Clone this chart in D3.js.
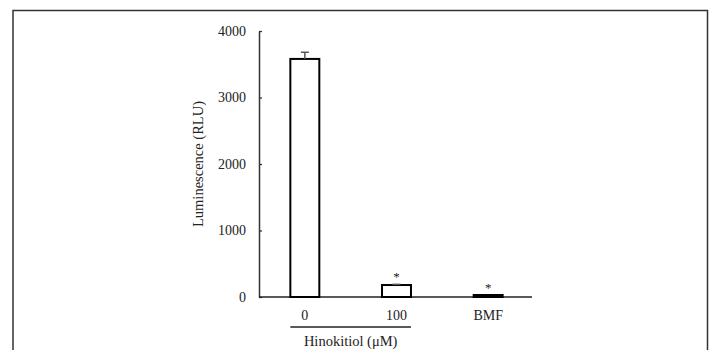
<!DOCTYPE html>
<html><head><meta charset="utf-8">
<script src="https://cdn.jsdelivr.net/npm/d3@7"></script>
<style>body{margin:0;background:#fff}svg{display:block}text{font-family:"Liberation Serif","DejaVu Serif",serif;fill:#222}</style>
</head><body><svg id="c" width="714" height="350"></svg>
<script>
const categories = ["0", "100", "BMF"];
const values = [3580, 180, 30];
const errors = [100, 10, 0];
const significant = [false, true, true];
const yTicks = [0, 1000, 2000, 3000, 4000];
const yLabel = "Luminescence (RLU)";
const groupLabel = "Hinokitiol (μM)";

const svg = d3.select("#c");
// outer frame
svg.append("path").attr("d","M13,350 L13,10.5 L707.5,10.5 L707.5,350")
  .attr("fill","none").attr("stroke","#333").attr("stroke-width",1.5);

const x0 = 259, x1 = 534, yTop = 31, yBot = 297;
const x = d3.scaleBand().domain(categories).range([x0, x1]).paddingInner(0.684).paddingOuter(0.342);
const y = d3.scaleLinear().domain([0, 4000]).range([yBot, yTop]);

// y axis
const ya = svg.append("g").attr("transform",`translate(${x0},0)`)
  .call(d3.axisLeft(y).tickValues(yTicks).tickFormat(d3.format("d")).tickSize(-3).tickPadding(13).tickSizeOuter(0));
ya.select(".domain").attr("stroke","#333").attr("stroke-width",1.5);
ya.selectAll(".tick line").attr("stroke","#333").attr("stroke-width",1.3);
ya.selectAll(".tick text").attr("font-size",14).attr("font-family","Liberation Serif").attr("fill","#222");

// x axis line
svg.append("line").attr("x1",x0).attr("x2",532).attr("y1",yBot).attr("y2",yBot)
  .attr("stroke","#222").attr("stroke-width",1.5);

// bars
svg.selectAll("rect.bar").data(values).enter().append("rect")
  .attr("x",(d,i)=>x(categories[i])).attr("width",x.bandwidth())
  .attr("y",d=>y(d)).attr("height",d=>yBot-y(d))
  .attr("fill",(d,i)=> (yBot-y(d))<4 ? "#000":"#fff")
  .attr("stroke","#000").attr("stroke-width",2);

// error bars
values.forEach((v,i)=>{
  if(!errors[i]) return;
  const cx = x(categories[i]) + x.bandwidth()/2;
  svg.append("line").attr("x1",cx).attr("x2",cx).attr("y1",y(v)).attr("y2",y(v+errors[i]))
    .attr("stroke","#555").attr("stroke-width",1.5);
  svg.append("line").attr("x1",cx-4).attr("x2",cx+4).attr("y1",y(v+errors[i])).attr("y2",y(v+errors[i]))
    .attr("stroke","#555").attr("stroke-width",1.5);
});

// significance stars
values.forEach((v,i)=>{
  if(!significant[i]) return;
  const cx = x(categories[i]) + x.bandwidth()/2;
  svg.append("text").attr("x",cx).attr("y",y(v+errors[i])-3).attr("text-anchor","middle")
    .attr("font-size",13).text("*");
});

// category labels
svg.selectAll("text.cat").data(categories).enter().append("text")
  .attr("x",d=>x(d)+x.bandwidth()/2).attr("y",320).attr("text-anchor","middle")
  .attr("font-size",14).text(d=>d);

// group underline
svg.append("line").attr("x1",x(categories[0])).attr("x2",x(categories[1])+x.bandwidth())
  .attr("y1",327).attr("y2",327).attr("stroke","#222").attr("stroke-width",1.5);
svg.append("text").attr("x",(x(categories[0])+x(categories[1])+x.bandwidth())/2).attr("y",346)
  .attr("text-anchor","middle").attr("font-size",14.5).text(groupLabel);

// y label
svg.append("text").attr("transform",`translate(203,164) rotate(-90)`).attr("text-anchor","middle")
  .attr("font-size",14.5).text(yLabel);
</script></body></html>
